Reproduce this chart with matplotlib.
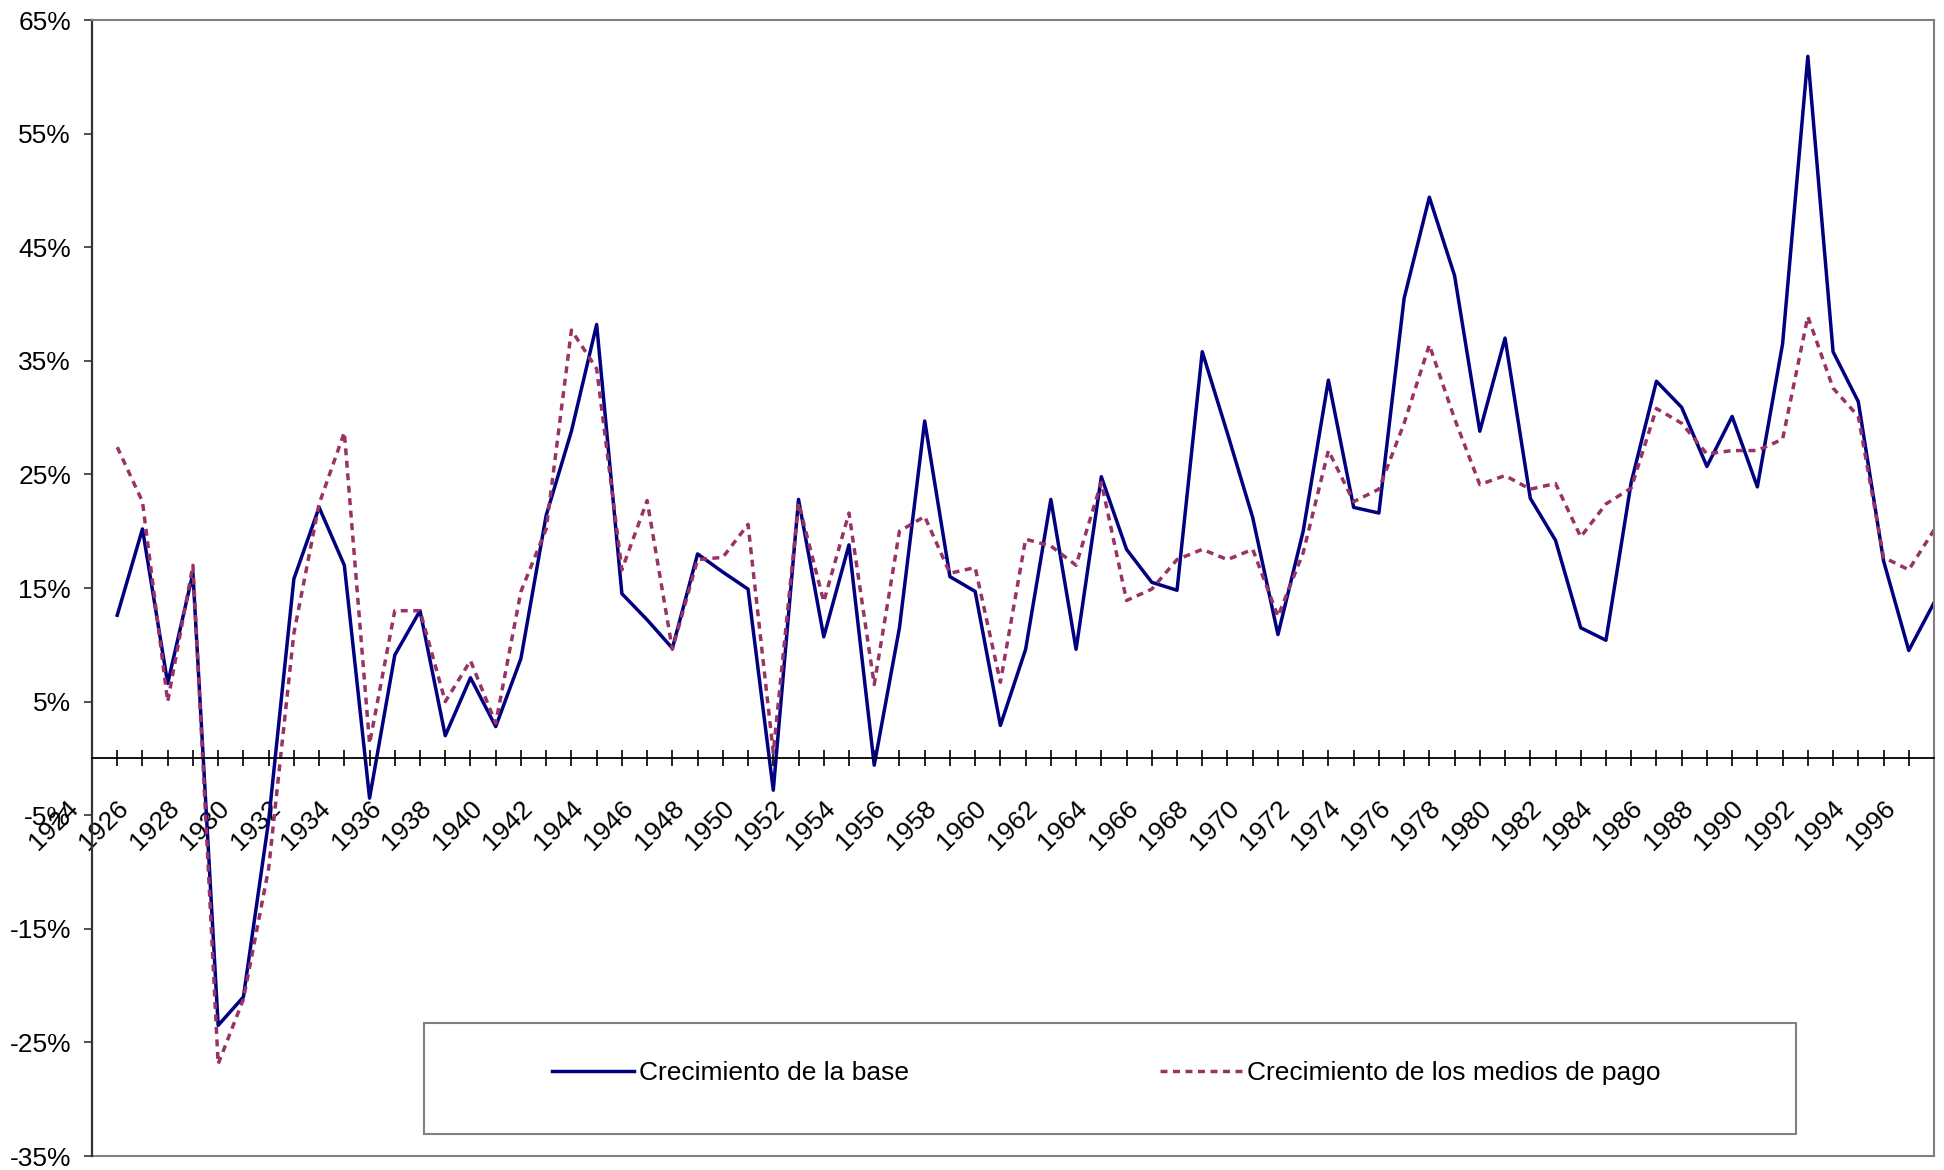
import matplotlib
matplotlib.use("Agg")
import matplotlib.pyplot as plt
from matplotlib.patches import Rectangle
from matplotlib.lines import Line2D
from matplotlib.transforms import ScaledTranslation

plt.rcParams['font.family'] = ['Liberation Sans', 'DejaVu Sans']

# data (annual growth, %)
years = list(range(1925, 1998))
base = [12.6, 20.2, 6.6, 16.3, -23.5, -21.0, -5.5, 15.8, 22.1, 17.0,
        -3.5, 9.1, 13.0, 2.0, 7.1, 2.8, 8.8, 21.4, 28.8, 38.2,
        14.5, 12.2, 9.7, 18.0, 16.4, 14.9, -2.8, 22.8, 10.7, 18.8,
        -0.6, 11.5, 29.7, 16.0, 14.7, 2.9, 9.6, 22.8, 9.6, 24.8,
        18.4, 15.5, 14.8, 35.8, 28.6, 21.2, 10.9, 20.0, 33.3, 22.1,
        21.6, 40.5, 49.4, 42.5, 28.8, 37.0, 22.9, 19.2, 11.5, 10.4,
        24.3, 33.2, 30.9, 25.7, 30.1, 23.9, 36.5, 61.8, 35.8, 31.4,
        17.4, 9.5, 13.7]
medios = [27.4, 22.6, 5.0, 17.0, -26.9, -21.2, -9.7, 11.0, 22.4, 28.7,
          1.3, 13.0, 13.0, 5.0, 8.6, 3.1, 14.7, 20.2, 37.7, 34.3,
          16.6, 22.7, 9.6, 17.5, 17.7, 20.6, 0.5, 22.5, 13.8, 21.6,
          6.5, 20.0, 21.3, 16.3, 16.8, 6.7, 19.3, 18.7, 17.0, 24.3,
          13.9, 14.9, 17.5, 18.4, 17.5, 18.4, 12.5, 18.1, 27.1, 22.6,
          23.7, 29.5, 36.4, 29.9, 24.1, 24.9, 23.7, 24.2, 19.5, 22.4,
          23.8, 30.8, 29.5, 26.8, 27.1, 27.1, 28.1, 38.9, 32.6, 30.1,
          17.7, 16.6, 20.1]
x_labels = list(range(1924, 1998, 2))
x_minor = list(range(1925, 1998, 2))
y_ticks = list(range(-35, 66, 10))
names = ["Crecimiento de la base", "Crecimiento de los medios de pago"]
colors = ["#000080", "#993366"]

W, H = 1944, 1170
fig = plt.figure(figsize=(W / 100, H / 100), dpi=100)
ax = fig.add_axes([92 / W, 1 - 1156 / H, (1934 - 92) / W, (1156 - 20) / H])

dash = (0, (2.0, 1.6))
ax.plot(years, base, color=colors[0], lw=2.5)
ax.plot(years, medios, color=colors[1], lw=2.5, linestyle=dash)

ax.set_xlim(1924, 1997)
ax.set_ylim(-35, 65)

# frame
ax.spines['bottom'].set_position(('data', 0))
ax.spines['bottom'].set_color('black')
ax.spines['bottom'].set_linewidth(1.3)
ax.spines['left'].set_color('#333333')
ax.spines['left'].set_linewidth(1.6)
for s in ['top', 'right']:
    ax.spines[s].set_color('#808080')
    ax.spines[s].set_linewidth(1.5)
ax.axhline(ax.get_ylim()[0], color='#808080', lw=1.5, clip_on=False)

# x axis
ax.set_xticks(x_labels)
ax.set_xticks(x_minor, minor=True)
ax.set_xticklabels([str(y) for y in x_labels], rotation=45, ha='right', va='top', fontsize=19)
ax.tick_params(axis='x', which='both', direction='inout', length=12, width=1.2, color='black', pad=21)
shift = ScaledTranslation(-0.09, 0, fig.dpi_scale_trans)
for lbl in ax.get_xticklabels():
    lbl.set_transform(lbl.get_transform() + shift)

# y axis
ax.set_yticks(y_ticks)
ax.set_yticklabels([f"{v}%" for v in y_ticks], fontsize=19)
ax.tick_params(axis='y', direction='out', length=6, width=1.2, color='#333333', pad=9)

# legend box
fig.add_artist(Rectangle((424 / W, 1 - 1134 / H), (1796 - 424) / W, (1134 - 1023) / H,
                         transform=fig.transFigure, facecolor='white', edgecolor='#808080', lw=1.5))
handles = [Line2D([], [], color=colors[0], lw=2.5),
           Line2D([], [], color=colors[1], lw=2.5, linestyle=dash)]
fig.legend(handles, names, loc='center left', bbox_to_anchor=(552 / W, 1 - 1073 / H),
           ncol=2, frameon=False, fontsize=19, handlelength=3.1, handletextpad=0.2,
           columnspacing=9.5, borderpad=0, borderaxespad=0)

fig.savefig("out.png", dpi=100)
